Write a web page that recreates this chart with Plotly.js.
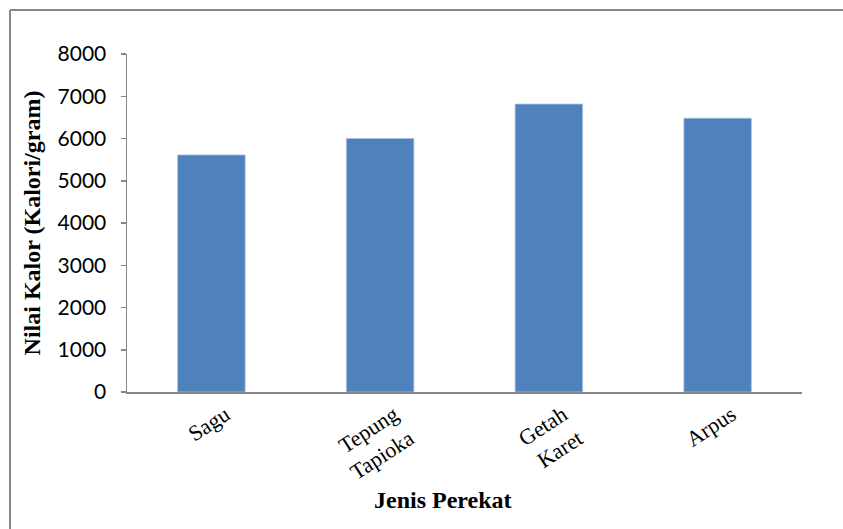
<!DOCTYPE html>
<html>
<head>
<meta charset="utf-8">
<script src="https://cdn.plot.ly/plotly-3.0.1.min.js"></script>
<style>html,body{margin:0;padding:0;background:#fff;overflow:hidden;}#chart{width:843px;height:529px;}</style>
</head>
<body>
<div id="chart"></div>
<script>
const categories = ["Sagu", "Tepung<br>Tapioka", "Getah<br>Karet", "Arpus"];
const values = [5610, 6000, 6815, 6480];
const yTicks = [0, 1000, 2000, 3000, 4000, 5000, 6000, 7000, 8000];
const yTitle = "Nilai Kalor (Kalori/gram)";
const xTitle = "Jenis Perekat";

const trace = {
  type: "bar",
  x: categories,
  y: values,
  marker: {color: "#4F81BD", line: {color: "#A9C2E0", width: 0.8}},
  hoverinfo: "x+y"
};

const leftX = (10 - 127) / 675;
const topY = 1 + (54 - 10) / 338;

const layout = {
  width: 843, height: 529,
  margin: {l: 127, r: 41, t: 54, b: 137},
  paper_bgcolor: "#fff", plot_bgcolor: "#fff",
  bargap: 0.6,
  showlegend: false,
  xaxis: {
    type: "category",
    showline: true, linecolor: "#868686", linewidth: 1.5,
    showgrid: false, zeroline: false,
    ticks: "", tickangle: -33,
    ticklabelshift: 14,
    tickfont: {family: "Liberation Serif, Times New Roman, serif", size: 22, color: "#000"},
    fixedrange: true
  },
  yaxis: {
    range: [0, 8000],
    tickvals: yTicks,
    ticktext: yTicks.map(String),
    showline: true, linecolor: "#868686", linewidth: 1.5,
    showgrid: false, zeroline: false,
    ticks: "outside", ticklen: 5, tickcolor: "#868686", tickwidth: 1.5,
    ticklabelstandoff: 10,
    tickfont: {family: "Lato, Open Sans, sans-serif", size: 21, color: "#000"},
    title: {text: yTitle, font: {family: "Liberation Serif, Times New Roman, serif", size: 24, color: "#000", weight: "bold"}, standoff: 10},
    fixedrange: true
  },
  annotations: [{
    text: "<b>" + xTitle + "</b>",
    xref: "paper", yref: "paper",
    x: (443 - 127) / 675, y: (392 - 500) / 338,
    xanchor: "center", yanchor: "middle",
    showarrow: false,
    font: {family: "Liberation Serif, Times New Roman, serif", size: 24, color: "#000"}
  }],
  shapes: [
    {type: "line", xref: "paper", yref: "paper", x0: leftX, x1: leftX, y0: (392 - 560) / 338, y1: topY,
     line: {color: "#868686", width: 2}},
    {type: "line", xref: "paper", yref: "paper", x0: leftX, x1: (860 - 127) / 675, y0: topY, y1: topY,
     line: {color: "#868686", width: 2}}
  ]
};

Plotly.newPlot("chart", [trace], layout, {displayModeBar: false, staticPlot: true});
</script>
</body>
</html>
